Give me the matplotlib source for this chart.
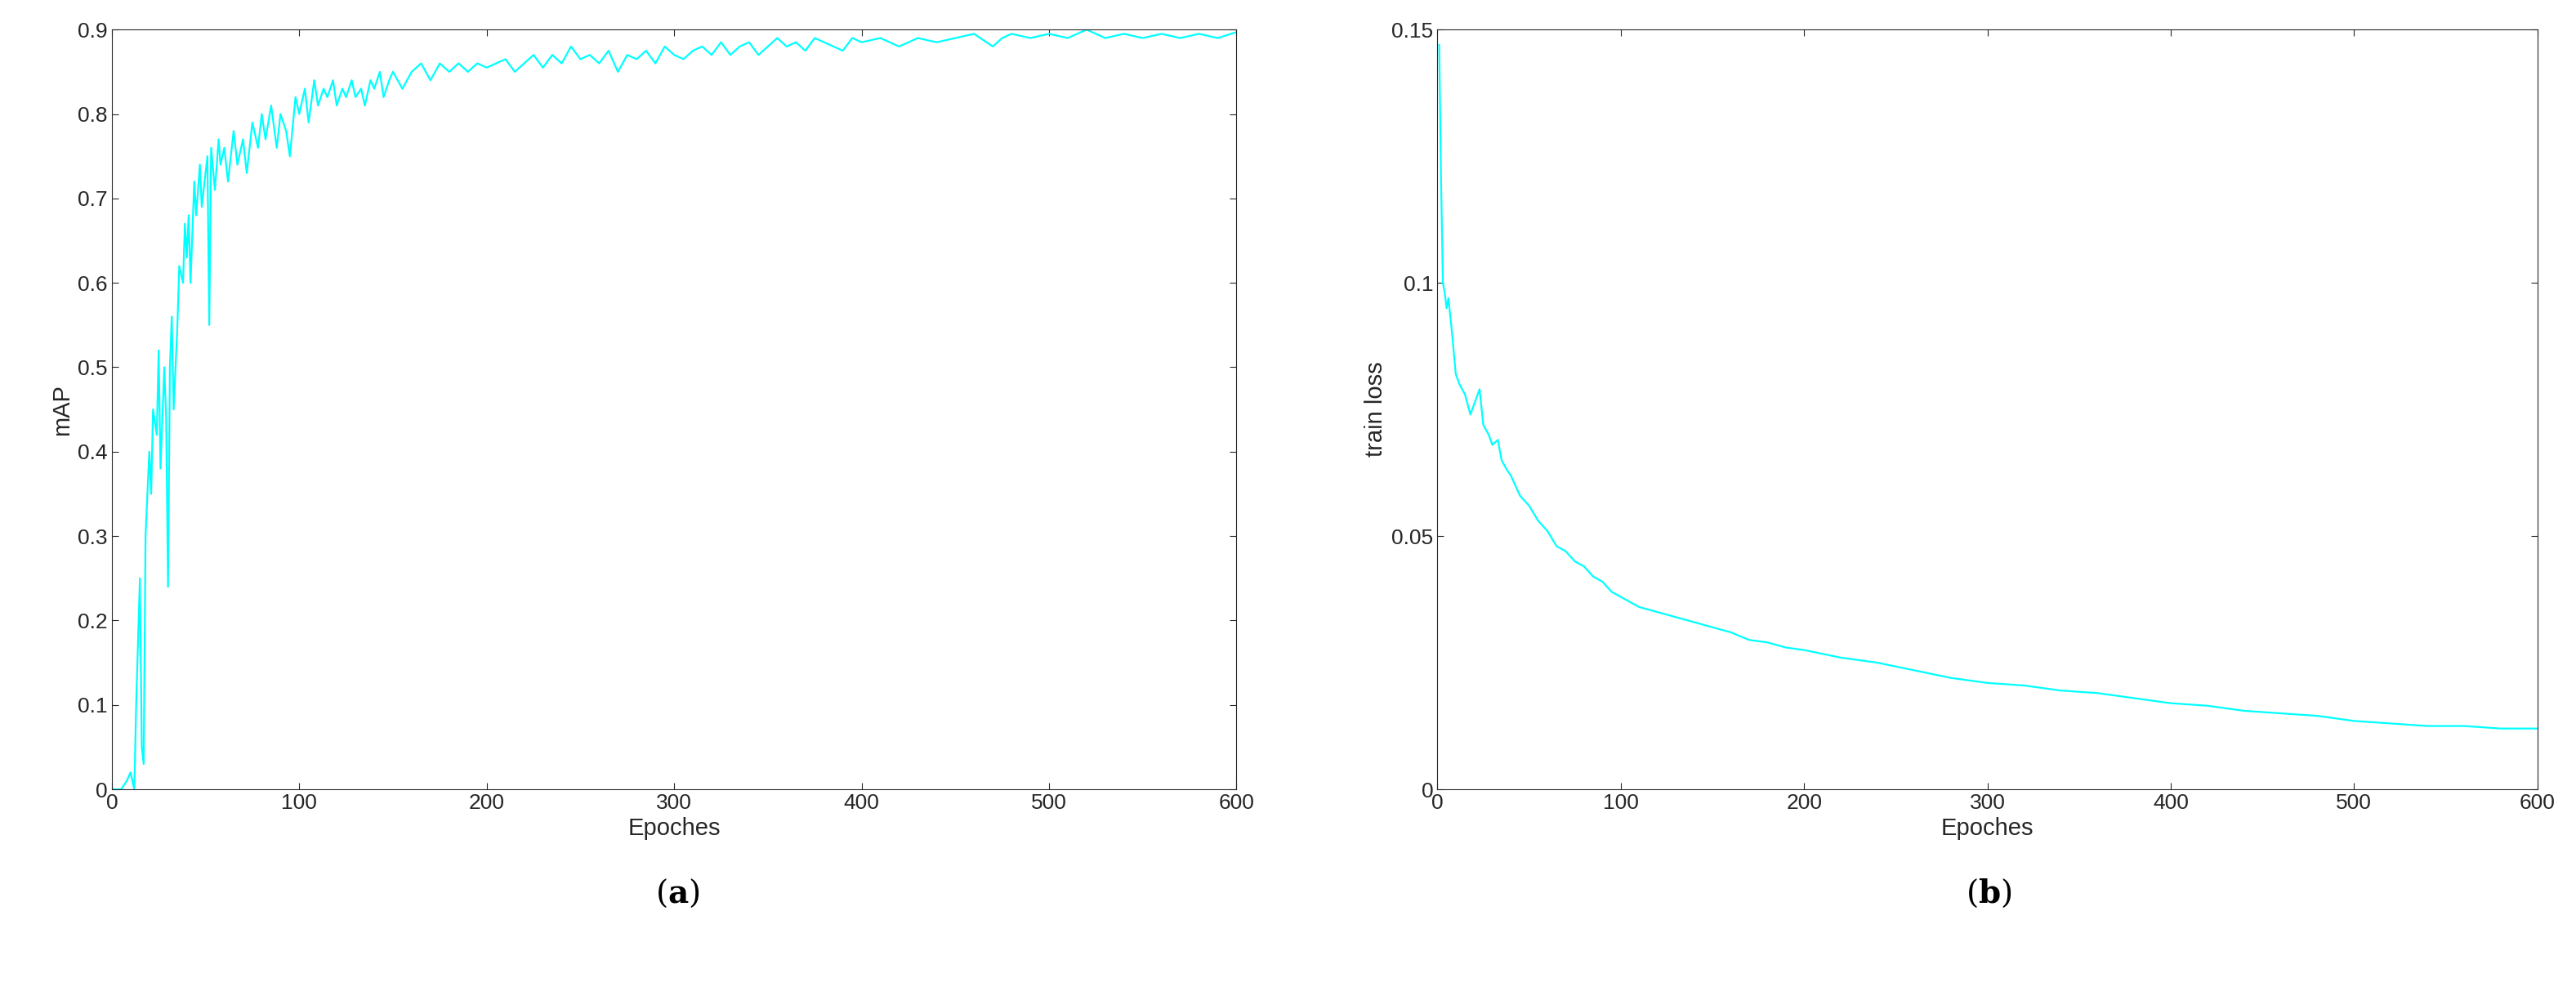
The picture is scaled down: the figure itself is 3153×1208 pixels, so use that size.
import matplotlib
matplotlib.use("Agg")
import matplotlib.pyplot as plt

map_epochs = [1,5,8,10,12,13,15,16,17,18,20,21,22,24,25,26,28,29,30,31,32,33,35,36,38,39,40,41,42,44,45,47,48,50,51,52,53,55,57,58,60,62,65,67,70,72,75,78,80,82,85,88,90,93,95,98,100,103,105,108,110,113,115,118,120,123,125,128,130,133,135,138,140,143,145,148,150,155,160,165,170,175,180,185,190,195,200,205,210,215,220,225,230,235,240,245,250,255,260,265,270,275,280,285,290,295,300,305,310,315,320,325,330,335,340,345,350,355,360,365,370,375,380,385,390,395,400,410,420,430,440,450,460,470,475,480,490,500,510,520,530,540,550,560,570,580,590,600]
map_values = [0.0,0.0,0.01,0.02,0.0,0.1,0.25,0.05,0.03,0.3,0.4,0.35,0.45,0.42,0.52,0.38,0.5,0.44,0.24,0.5,0.56,0.45,0.55,0.62,0.6,0.67,0.63,0.68,0.6,0.72,0.68,0.74,0.69,0.73,0.75,0.55,0.76,0.71,0.77,0.74,0.76,0.72,0.78,0.74,0.77,0.73,0.79,0.76,0.8,0.77,0.81,0.76,0.8,0.78,0.75,0.82,0.8,0.83,0.79,0.84,0.81,0.83,0.82,0.84,0.81,0.83,0.82,0.84,0.82,0.83,0.81,0.84,0.83,0.85,0.82,0.84,0.85,0.83,0.85,0.86,0.84,0.86,0.85,0.86,0.85,0.86,0.855,0.86,0.865,0.85,0.86,0.87,0.855,0.87,0.86,0.88,0.865,0.87,0.86,0.875,0.85,0.87,0.865,0.875,0.86,0.88,0.87,0.865,0.875,0.88,0.87,0.885,0.87,0.88,0.885,0.87,0.88,0.89,0.88,0.885,0.875,0.89,0.885,0.88,0.875,0.89,0.885,0.89,0.88,0.89,0.885,0.89,0.895,0.88,0.89,0.895,0.89,0.895,0.89,0.9,0.89,0.895,0.89,0.895,0.89,0.895,0.89,0.897]

loss_epochs = [1,2,3,4,5,6,8,10,12,15,18,20,23,25,28,30,33,35,38,40,45,50,55,60,65,70,75,80,85,90,95,100,110,120,130,140,150,160,170,180,190,200,220,240,260,280,300,320,340,360,380,400,420,440,460,480,500,520,540,560,580,600]
loss_values = [0.147,0.12,0.10,0.098,0.095,0.097,0.09,0.082,0.08,0.078,0.074,0.076,0.079,0.072,0.07,0.068,0.069,0.065,0.063,0.062,0.058,0.056,0.053,0.051,0.048,0.047,0.045,0.044,0.042,0.041,0.039,0.038,0.036,0.035,0.034,0.033,0.032,0.031,0.0295,0.029,0.028,0.0275,0.026,0.025,0.0235,0.022,0.021,0.0205,0.0195,0.019,0.018,0.017,0.0165,0.0155,0.015,0.0145,0.0135,0.013,0.0125,0.0125,0.012,0.012]

fs_tick = 19
fs_lab = 21
fig = plt.figure(figsize=(31.53, 12.08), dpi=100)
ax1 = fig.add_axes([0.0434, 0.2003, 0.4366, 0.7697])
ax2 = fig.add_axes([0.558, 0.2003, 0.427, 0.7697])
for ax in (ax1, ax2):
    ax.set_xlim(0, 600)
    ax.set_xticks([0, 100, 200, 300, 400, 500, 600])
    ax.tick_params(labelsize=fs_tick, direction='in', color='#262626', labelcolor='#262626', top=True, right=True, length=6)
    ax.set_xlabel('Epoches', fontsize=fs_lab, color='#262626', family='Liberation Sans')
    for s in ax.spines.values():
        s.set_color('#262626')
    for t in ax.get_xticklabels() + ax.get_yticklabels():
        t.set_family('Liberation Sans')

ax1.plot(map_epochs, map_values, color='#00FFFF', lw=1.6)
ax1.set_ylim(0, 0.9)
ax1.set_yticks([0, 0.1, 0.2, 0.3, 0.4, 0.5, 0.6, 0.7, 0.8, 0.9])
ax1.set_yticklabels(['0', '0.1', '0.2', '0.3', '0.4', '0.5', '0.6', '0.7', '0.8', '0.9'], family='Liberation Sans')
ax1.set_ylabel('mAP', fontsize=fs_lab, color='#262626', family='Liberation Sans')

ax2.plot(loss_epochs, loss_values, color='#00FFFF', lw=1.6)
ax2.set_ylim(0, 0.15)
ax2.set_yticks([0, 0.05, 0.1, 0.15])
ax2.set_yticklabels(['0', '0.05', '0.1', '0.15'], family='Liberation Sans')
ax2.set_ylabel('train loss', fontsize=fs_lab, color='#262626', family='Liberation Sans')

plt.rcParams['mathtext.fontset'] = 'dejavuserif'
fig.text(0.263, 0.095, r'($\mathbf{a}$)', fontsize=28, family='DejaVu Serif', ha='center', va='center')
fig.text(0.772, 0.095, r'($\mathbf{b}$)', fontsize=28, family='DejaVu Serif', ha='center', va='center')
fig.savefig('out.png', dpi=100)
